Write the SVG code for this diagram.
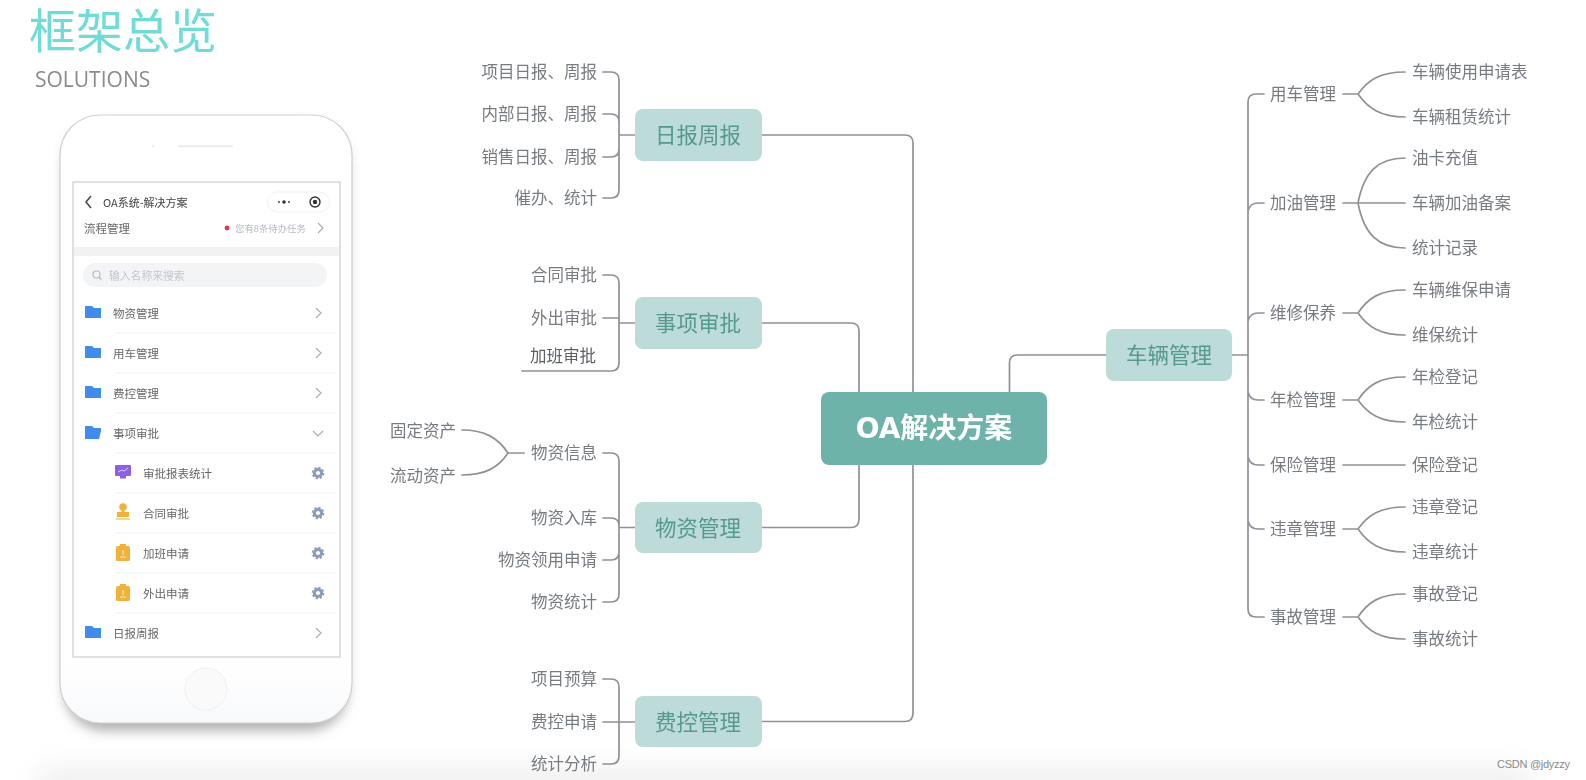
<svg xmlns="http://www.w3.org/2000/svg" width="1586" height="780" viewBox="0 0 1586 780">
<style>
text{font-family:"Noto Sans CJK SC","Noto Sans",sans-serif;dominant-baseline:central}
.leaf{font-size:16.5px;fill:#777b81}
.r{text-anchor:end}
.branch{font-size:21.500px;fill:#55998f;text-anchor:middle}
.bbox{fill:#bddbd8}
.con{fill:none;stroke:#8e9196;stroke-width:1.7;stroke-linecap:round}
.row{font-size:11.500px;fill:#666}
.sep{stroke:#f1f2f3;stroke-width:1}
.chev{fill:none;stroke:#a9adb3;stroke-width:1.2}
.soft{filter:url(#soft)}
</style>
<defs>
<filter id="soft" x="-5%" y="-5%" width="110%" height="110%"><feGaussianBlur stdDeviation="0.6"/></filter>
<filter id="band" x="-10%" y="-200%" width="120%" height="500%"><feGaussianBlur stdDeviation="14"/></filter>
<filter id="shadow" x="-20%" y="-20%" width="140%" height="140%"><feGaussianBlur stdDeviation="6"/></filter>
<linearGradient id="body" x1="0" y1="0" x2="0" y2="1"><stop offset="0.9" stop-color="#ffffff"/><stop offset="1" stop-color="#f8f9fb"/></linearGradient>
<g id="folder"><path d="M85 306h7l2 2h7v10h-16z" fill="#3f8ceb"/></g>
<g id="chevron"><path d="M0 -5L5 0L0 5" class="chev"/></g>
<g id="gear"><circle r="3.600" fill="none" stroke="#8a9cbb" stroke-width="3"/><circle r="5.400" fill="none" stroke="#8a9cbb" stroke-width="1.800" stroke-dasharray="2.200 2"/></g>
<g id="clip"><rect x="116" y="-7" width="14" height="15" rx="1.500" fill="#efb23c"/><rect x="120" y="-9" width="6" height="3" fill="#efb23c"/><path d="M120 4h6M123 -3v5" stroke="#fbe6b8" stroke-width="1"/></g>
</defs>

<rect x="40" y="768" width="1490" height="50" fill="#efefef" filter="url(#band)"/>

<g id="title" class="soft">
<text x="29" y="48" font-size="47" fill="#6fdcd5" style="font-family:'Liberation Sans','Noto Sans CJK SC',sans-serif;dominant-baseline:auto">框架总览</text>
<text x="35" y="78.500" font-size="21" fill="#8b8b8b" style="font-family:'Open Sans',sans-serif">SOLUTIONS</text>
</g>

<g id="phone" class="soft">
<rect x="64" y="124" width="284" height="607" rx="40" fill="#9a9a9a" filter="url(#shadow)" opacity="0.75"/>
<rect x="60" y="115" width="292" height="608" rx="40" fill="url(#body)" stroke="#cfcfcf" stroke-width="1.200"/>
<circle cx="153" cy="146" r="1.300" fill="#eceff1"/>
<rect x="178" y="145" width="55" height="2.400" rx="1" fill="#eaf0f1"/>
<rect x="73" y="182" width="267" height="475" fill="#fff" stroke="#c9cdcd" stroke-width="1.200"/>
<circle cx="206" cy="689" r="21" fill="#fafafb" stroke="#f0f0f1"/>
<path d="M91 196L86 202L91 208" fill="none" stroke="#444" stroke-width="1.500"/>
<text x="103" y="201.500" font-size="11" fill="#444">OA系统-解决方案</text>
<rect x="267.500" y="192" width="62" height="20" rx="10" fill="#fff" stroke="#f1f1f1"/>
<circle cx="284" cy="202" r="1.800" fill="#333"/><circle cx="279" cy="202" r="0.900" fill="#333"/><circle cx="289" cy="202" r="0.900" fill="#333"/>
<circle cx="315" cy="202" r="5" fill="none" stroke="#333" stroke-width="1.400"/><circle cx="315" cy="202" r="2.200" fill="#333"/>
<text x="84" y="228" font-size="11.500" fill="#666">流程管理</text>
<circle cx="227" cy="228" r="2.400" fill="#d8413d"/>
<text x="235" y="228" font-size="9.400" fill="#b5b9bf">您有8条待办任务</text>
<use href="#chevron" x="318" y="228"/>
<rect x="74" y="247" width="265" height="9" fill="#f2f2f2"/>
<rect x="83" y="263" width="244" height="24" rx="12" fill="#f3f4f5"/>
<circle cx="96.500" cy="274.500" r="3.500" fill="none" stroke="#b5bcc8" stroke-width="1.200"/><path d="M99 277l2.500 2.500" stroke="#b5bcc8" stroke-width="1.200"/>
<text x="109" y="275" font-size="10.800" fill="#c0c6d3">输入名称来搜索</text>

<use href="#folder"/><text x="113" y="313" class="row">物资管理</text><use href="#chevron" x="316" y="313"/>
<line x1="114" y1="333" x2="336" y2="333" class="sep"/>
<use href="#folder" y="40"/><text x="113" y="353" class="row">用车管理</text><use href="#chevron" x="316" y="353"/>
<line x1="114" y1="373" x2="336" y2="373" class="sep"/>
<use href="#folder" y="80"/><text x="113" y="393" class="row">费控管理</text><use href="#chevron" x="316" y="393"/>
<line x1="114" y1="413" x2="336" y2="413" class="sep"/>
<path d="M85 426h7l2 2h7v3l-2 8h-14z" fill="#3f8ceb"/><text x="113" y="433" class="row">事项审批</text>
<path d="M313 431l5 5l5 -5" class="chev"/>
<line x1="114" y1="453" x2="336" y2="453" class="sep"/>
<rect x="115" y="465" width="16" height="11" rx="1" fill="#8b61e6"/><rect x="120" y="476" width="6" height="2.500" fill="#8b61e6"/><path d="M118 472l4 -2l2 1l4 -3" stroke="#d9ccf8" fill="none"/>
<text x="143" y="473" class="row">审批报表统计</text><use href="#gear" x="318" y="473"/>
<line x1="114" y1="493" x2="336" y2="493" class="sep"/>
<circle cx="123" cy="507" r="3.800" fill="#efb23c"/><path d="M121.500 509h3v3h4.500v5h-12v-5h4.500z" fill="#efb23c"/><rect x="116" y="518" width="14" height="2" fill="#f6d690"/>
<text x="143" y="513" class="row">合同审批</text><use href="#gear" x="318" y="513"/>
<line x1="114" y1="533" x2="336" y2="533" class="sep"/>
<use href="#clip" y="553"/><text x="143" y="553" class="row">加班申请</text><use href="#gear" x="318" y="553"/>
<line x1="114" y1="573" x2="336" y2="573" class="sep"/>
<use href="#clip" y="593"/><text x="143" y="593" class="row">外出申请</text><use href="#gear" x="318" y="593"/>
<line x1="114" y1="613" x2="336" y2="613" class="sep"/>
<use href="#folder" y="320"/><text x="113" y="633" class="row">日报周报</text><use href="#chevron" x="316" y="633"/>
</g>

<g id="connectors" class="soft">
<path class="con" d="M762 135H905Q913 135 913 143V392M913 465V713Q913 721.500 905 721.500H762"/>
<path class="con" d="M762 323H851Q859 323 859 331V392M859 465V519Q859 527.500 851 527.500H762"/>
<path class="con" d="M1009.500 392V363Q1009.500 355 1017.500 355H1106"/>
<path class="con" d="M603 72H611Q619 72 619 80V190Q619 198 611 198H603M603 114H611Q619 114 619 122M603 157H611Q619 157 619 149M619 135H635"/>
<path class="con" d="M603 275H611Q619 275 619 283V363Q619 371 611 371H522M603 318H619M619 323H635"/>
<path class="con" d="M603 453H611Q619 453 619 461V594Q619 602 611 602H603M603 518H611Q619 518 619 526M603 560H611Q619 560 619 552M619 527.500H635"/>
<path class="con" d="M462 430C485 430 498 438 508 453C498 468 485 475 462 475M508 453H524"/>
<path class="con" d="M603 679H611Q619 679 619 687V756Q619 764 611 764H603M603 722H635"/>
<path class="con" d="M1232 355H1248M1264 94H1256Q1248 94 1248 102V609Q1248 617 1256 617H1264M1264 203H1258Q1250 203 1248 211M1264 313H1258Q1250 313 1248 321M1264 400H1258Q1250 400 1248 392M1264 465H1258Q1250 465 1248 457M1264 529H1258Q1250 529 1248 521"/>
<path class="con" d="M1343 94H1358M1405 72C1380 72 1368 80 1358 94C1368 108 1380 117 1405 117"/>
<path class="con" d="M1343 203H1405M1405 158C1378 158 1364 172 1358 203C1364 234 1378 248 1405 248"/>
<path class="con" d="M1343 313H1358M1405 290C1380 290 1368 298 1358 313C1368 327 1380 335 1405 335"/>
<path class="con" d="M1343 400H1358M1405 377C1380 377 1368 385 1358 400C1368 414 1380 422 1405 422"/>
<path class="con" d="M1343 465H1405"/>
<path class="con" d="M1343 529H1358M1405 507C1380 507 1368 515 1358 529C1368 543 1380 552 1405 552"/>
<path class="con" d="M1343 617H1358M1405 594C1380 594 1368 602 1358 617C1368 631 1380 639 1405 639"/>
</g>

<g class="soft">
<g id="root"><rect x="821" y="392" width="226" height="73" rx="8" fill="#6db3a9"/><text x="934" y="428" font-size="28" font-weight="700" fill="#fff" text-anchor="middle" style="font-family:'DejaVu Sans','Noto Sans CJK SC',sans-serif">OA解决方案</text></g>
<g id="n-daily"><rect class="bbox" x="635" y="109" width="127" height="52" rx="8"/><text class="branch" x="698" y="133.500">日报周报</text></g>
<g id="n-approval"><rect class="bbox" x="635" y="297" width="127" height="52" rx="8"/><text class="branch" x="698" y="321.500">事项审批</text></g>
<g id="n-material"><rect class="bbox" x="635" y="502" width="127" height="51" rx="8"/><text class="branch" x="698" y="526">物资管理</text></g>
<g id="n-cost"><rect class="bbox" x="635" y="696" width="127" height="51" rx="8"/><text class="branch" x="698" y="720">费控管理</text></g>
<g id="n-vehicle"><rect class="bbox" x="1106" y="329" width="126" height="52" rx="8"/><text class="branch" x="1169" y="353.500">车辆管理</text></g>

<g transform="translate(0,-1)">
<g id="l1"><text class="leaf r" x="597" y="72">项目日报、周报</text></g>
<g id="l2"><text class="leaf r" x="597" y="114">内部日报、周报</text></g>
<g id="l3"><text class="leaf r" x="597" y="157">销售日报、周报</text></g>
<g id="l4"><text class="leaf r" x="597" y="198">催办、统计</text></g>
<g id="l5"><text class="leaf r" x="597" y="275">合同审批</text></g>
<g id="l6"><text class="leaf r" x="597" y="318">外出审批</text></g>
<g id="l7"><text class="leaf r" x="596" y="356" style="fill:#5c5f63">加班审批</text></g>
<g id="l8"><text class="leaf r" x="597" y="453">物资信息</text></g>
<g id="l9"><text class="leaf r" x="456" y="431">固定资产</text></g>
<g id="l10"><text class="leaf r" x="456" y="476">流动资产</text></g>
<g id="l11"><text class="leaf r" x="597" y="518">物资入库</text></g>
<g id="l12"><text class="leaf r" x="597" y="560">物资领用申请</text></g>
<g id="l13"><text class="leaf r" x="597" y="602">物资统计</text></g>
<g id="l14"><text class="leaf r" x="597" y="679">项目预算</text></g>
<g id="l15"><text class="leaf r" x="597" y="722">费控申请</text></g>
<g id="l16"><text class="leaf r" x="597" y="764">统计分析</text></g>

<g id="m1"><text class="leaf" x="1270" y="94">用车管理</text></g>
<g id="m2"><text class="leaf" x="1270" y="203">加油管理</text></g>
<g id="m3"><text class="leaf" x="1270" y="313">维修保养</text></g>
<g id="m4"><text class="leaf" x="1270" y="400">年检管理</text></g>
<g id="m5"><text class="leaf" x="1270" y="465">保险管理</text></g>
<g id="m6"><text class="leaf" x="1270" y="529">违章管理</text></g>
<g id="m7"><text class="leaf" x="1270" y="617">事故管理</text></g>

<g id="r1"><text class="leaf" x="1412" y="72">车辆使用申请表</text></g>
<g id="r2"><text class="leaf" x="1412" y="117">车辆租赁统计</text></g>
<g id="r3"><text class="leaf" x="1412" y="158">油卡充值</text></g>
<g id="r4"><text class="leaf" x="1412" y="203">车辆加油备案</text></g>
<g id="r5"><text class="leaf" x="1412" y="248">统计记录</text></g>
<g id="r6"><text class="leaf" x="1412" y="290">车辆维保申请</text></g>
<g id="r7"><text class="leaf" x="1412" y="335">维保统计</text></g>
<g id="r8"><text class="leaf" x="1412" y="377">年检登记</text></g>
<g id="r9"><text class="leaf" x="1412" y="422">年检统计</text></g>
<g id="r10"><text class="leaf" x="1412" y="465">保险登记</text></g>
<g id="r11"><text class="leaf" x="1412" y="507">违章登记</text></g>
<g id="r12"><text class="leaf" x="1412" y="552">违章统计</text></g>
<g id="r13"><text class="leaf" x="1412" y="594">事故登记</text></g>
<g id="r14"><text class="leaf" x="1412" y="639">事故统计</text></g>
</g>
</g>

<text x="1497" y="764" font-size="11" fill="#8a8a8a" style="font-family:'Liberation Sans',sans-serif" textLength="73">CSDN @jdyzzy</text>
</svg>
